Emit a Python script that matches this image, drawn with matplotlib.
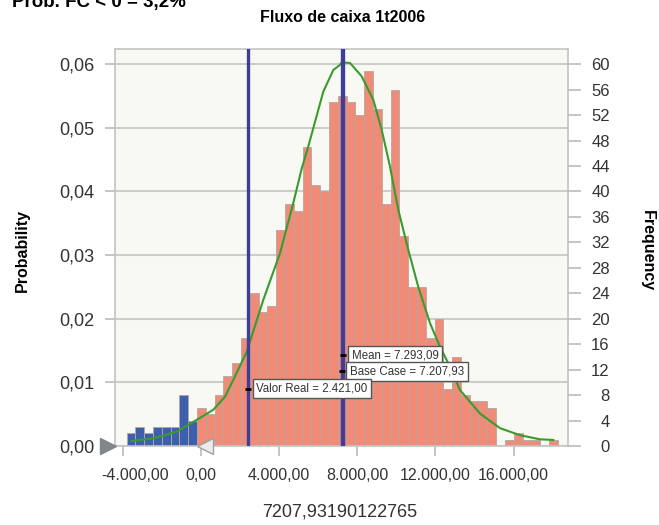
import matplotlib
matplotlib.use("Agg")
import matplotlib.pyplot as plt
from matplotlib.transforms import ScaledTranslation
import numpy as np

# simulation results, 1000 trials
n_trials = 1000
bin_start = -3790.0
bin_width = 450.0
counts = [2, 3, 2, 3, 3, 3, 8, 4,
          6, 5, 8, 11, 13, 17, 24, 21, 22, 34,
          38, 37, 47, 41, 40, 54, 55, 54, 52, 59,
          53, 38, 56, 33, 25, 25, 17, 20, 9, 14,
          8, 7, 7, 6, 0, 1, 2, 1, 1, 0, 1]
n_left = 8  # bins below the certainty range (blue)

# fitted curve (value, frequency)
fit_x = [-3535, -2425, -1228, -205, 645, 1243, 1668, 2353, 3205, 4056, 4737,
         5166, 5504, 6271, 6783, 7125, 7212, 7637, 8235, 8829, 9258, 9683,
         10108, 10620, 11130, 11729, 12240, 12583, 13263, 14286, 15309,
         16330, 17353, 18035]
fit_f = [0.8, 1.2, 2.25, 4.1, 5.7, 7.75, 10.4, 14.8, 23.0, 30.3, 38.2,
         43.6, 47.1, 55.7, 59.1, 59.9, 60.3, 60.2, 58.1, 54.4, 49.7, 43.9,
         37.1, 30.8, 25.0, 19.3, 15.6, 13.5, 8.8, 5.1, 2.8,
         1.7, 1.05, 0.95]

valor_real = 2421.00
base_case = 7207.93190122765
mean_val = 7293.09

x_ticks = [-4000, 0, 4000, 8000, 12000, 16000]
prob_ticks = [0.0, 0.01, 0.02, 0.03, 0.04, 0.05, 0.06]
freq_ticks = list(range(0, 61, 4))


def br(v, dec=2):
    s = f"{v:,.{dec}f}"
    return s.replace(",", "X").replace(".", ",").replace("X", ".")


font = ["Liberation Sans", "DejaVu Sans"]
plt.rcParams["font.family"] = font
tick_col = "#333333"
line_col = "#3d3d9a"

fig = plt.figure(figsize=(6.59, 5.25), dpi=100)
ax = fig.add_axes([0.1745, 0.1505, 0.6875, 0.7562])
ax.set_facecolor("#f9f9f3")

edges = bin_start + bin_width * np.arange(len(counts))
probs = np.array(counts) / n_trials
colors = ["#3d60ad"] * n_left + ["#ef8b76"] * (len(counts) - n_left)
ax.bar(edges, probs, width=bin_width, align="edge", color=colors,
       edgecolor="#b4a6a4", linewidth=0.6, zorder=2)

ax.plot(fit_x, np.array(fit_f) / n_trials, color="#3a9a30", lw=1.5, zorder=3)

for v in (valor_real, base_case, mean_val):
    ax.axvline(v, color=line_col, lw=2.4, zorder=4)

ax.set_xlim(-4384, 18790)
ax.set_ylim(0, 0.0624)
ax.set_xticks(x_ticks)
ax.set_xticklabels([br(v) for v in x_ticks])
ax.set_yticks(prob_ticks)
ax.set_yticklabels([f"{v:.2f}".replace(".", ",") for v in prob_ticks])
ax.yaxis.grid(True, color="#cccccc", lw=1.5, zorder=1)
ax.set_axisbelow(True)
ax.tick_params(axis="both", colors="#bbbbbb", labelcolor=tick_col,
               length=7, width=1.2)
ax.tick_params(axis="y", pad=8, labelsize=13)
ax.tick_params(axis="x", pad=9, labelsize=11.5)
# first x label sits a bit to the right of its tick, as in the original
first = ax.get_xticklabels()[0]
first.set_transform(first.get_transform()
                    + ScaledTranslation(0.13, 0, fig.dpi_scale_trans))
for sp in ax.spines.values():
    sp.set_color("#c4c4c4")
    sp.set_linewidth(1.2)

ax2 = ax.twinx()
ax2.set_ylim(0, 0.0624 * n_trials)
ax2.set_yticks(freq_ticks)
ax2.tick_params(axis="y", colors="#bbbbbb", labelcolor=tick_col,
                labelsize=12, length=9, width=1.2, pad=21)
for t in ax2.get_yticklabels():
    t.set_ha("right")
for sp in ax2.spines.values():
    sp.set_visible(False)

# labels on the marker lines
notes = [(mean_val, 0.0143, "Mean = " + br(mean_val)),
         (base_case, 0.01175, "Base Case = " + br(base_case)),
         (valor_real, 0.0090, "Valor Real = " + br(valor_real))]
for v, y, txt in notes:
    ax.plot([v], [y], marker="_", ms=5, mew=2, color="black", zorder=6)
    ax.annotate(txt, xy=(v, y), xytext=(6, 0), textcoords="offset points",
                va="center", ha="left", fontsize=8.3, color="#333333",
                zorder=7,
                bbox=dict(boxstyle="square,pad=0.3", fc="white",
                          ec="#555555", lw=1))

# certainty grabbers
ax.plot([-4750], [0], marker=">", ms=12, color="#7f868c", clip_on=False,
        zorder=8)
ax.plot([230], [0], marker="<", ms=12, mfc="#ececec", mec="#a0a0a0",
        clip_on=False, zorder=8)

fig.text(0.52, 0.967, "Fluxo de caixa 1t2006", ha="center", va="center",
         fontsize=11.5, fontweight="bold")
fig.text(0.018, 0.987, "Prob. FC < 0 = 3,2%", ha="left", va="baseline",
         fontsize=13.5, fontweight="bold")
fig.text(0.034, 0.523, "Probability", rotation=90, ha="center", va="center",
         fontsize=11.5, fontweight="bold")
fig.text(0.983, 0.523, "Frequency", rotation=-90, ha="center", va="center",
         fontsize=11.5, fontweight="bold")
fig.text(0.516, 0.025, br(base_case, 11).replace(".", ""), ha="center",
         va="center", fontsize=13, color="#333333")

fig.savefig("out.png", dpi=100)
